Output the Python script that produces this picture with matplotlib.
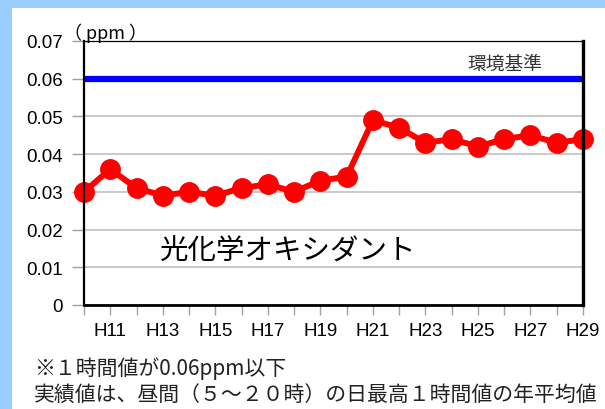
import numpy as np
from matplotlib import pyplot as plt
from matplotlib.patches import Rectangle

# データ（光化学オキシダント 年平均値）
years = ['H10', 'H11', 'H12', 'H13', 'H14', 'H15', 'H16', 'H17', 'H18', 'H19',
         'H20', 'H21', 'H22', 'H23', 'H24', 'H25', 'H26', 'H27', 'H28', 'H29']
values = [0.030, 0.036, 0.031, 0.029, 0.030, 0.029, 0.031, 0.032, 0.030, 0.033,
          0.034, 0.049, 0.047, 0.043, 0.044, 0.042, 0.044, 0.045, 0.043, 0.044]
standard = 0.06
yticks = [0, 0.01, 0.02, 0.03, 0.04, 0.05, 0.06, 0.07]

jp = ['Noto Sans CJK JP', 'DejaVu Sans']
plt.rcParams['font.family'] = ['Liberation Sans', 'Noto Sans CJK JP', 'DejaVu Sans']

W, H = 605, 410
fig = plt.figure(figsize=(W / 100, H / 100), dpi=100, facecolor='#99ccff')
# 白い背景パネル
fig.patches.append(Rectangle((12 / W, 0), 1 - 12 / W, 1 - 9 / H,
                             transform=fig.transFigure, facecolor='white',
                             edgecolor='none', zorder=-5))

ax = fig.add_axes([84 / W, 1 - 306 / H, (583 - 84) / W, (306 - 42) / H])
ax.set_zorder(2)
ax.set_facecolor('white')

x = np.arange(len(years))
ax.plot(x, values, color='#ff0000', lw=4.3, marker='o', markersize=14,
        clip_on=False, zorder=4)
ax.axhline(standard, color='#0000ff', lw=4.5, zorder=3)

ax.set_xlim(0, len(years) - 1)
ax.set_ylim(0, 0.07)
ax.set_yticks(yticks)
ax.set_yticklabels(['0' if v == 0 else '%.2f' % v for v in yticks], fontsize=13.5)
ax.set_xticks(x)
ax.set_xticklabels([y if i % 2 == 1 else '' for i, y in enumerate(years)], fontsize=13.5)
ax.grid(axis='y', color='#c0c0c0', lw=1.2, zorder=1)
ax.tick_params(axis='y', length=9, color='#a0a0a0', width=1.0, pad=6)
ax.tick_params(axis='x', length=7, color='#a0a0a0', width=1.0, pad=5)

ax.spines['left'].set_linewidth(1.6)
ax.spines['bottom'].set_linewidth(2.0)
ax.spines['right'].set_linewidth(2.4)
ax.spines['top'].set_linewidth(0.9)
for s in ax.spines.values():
    s.set_zorder(5)

# テキスト
ax.text(0.844, 0.0612, '環境基準', fontsize=13.5, family=jp, color='#333333',
        ha='center', va='bottom', transform=ax.get_yaxis_transform())
ax.text(0.407, 0.0145, '光化学オキシダント', fontsize=20.5, family=jp,
        ha='center', va='center', transform=ax.get_yaxis_transform())
fig.text(64 / W, 1 - 33 / H, '（ ppm ）', fontsize=13, family=jp,
         ha='left', va='center')
fig.text(34 / W, 1 - 369 / H, '※１時間値が0.06ppm以下', fontsize=15,
         family=jp, color='#222222', ha='left', va='center')
fig.text(34 / W, 1 - 395 / H, '実績値は、昼間（５～２０時）の日最高１時間値の年平均値',
         fontsize=15, family=jp, color='#222222', ha='left', va='center')

fig.savefig('out.png', dpi=100, facecolor=fig.get_facecolor())
